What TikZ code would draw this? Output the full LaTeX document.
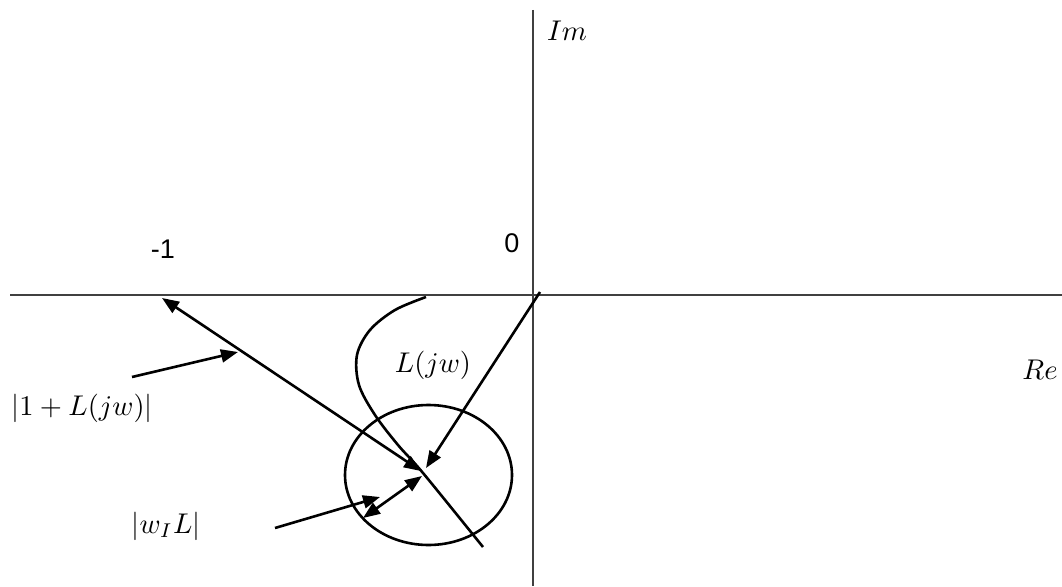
\documentclass[tikz,border=0pt]{standalone}
\usepackage{graphicx}
\usepackage{fontspec}
\newfontfamily\arialfont{Liberation Sans}
\usetikzlibrary{arrows.meta}
\newcommand{\mlab}[1]{\scalebox{2.85}{$#1$}}
\tikzset{
  axis/.style={line width=2.1pt, draw=black!75},
  curve/.style={line width=2.6pt, draw=black},
  arr/.style={curve, -{Triangle[length=17pt,width=13pt]}},
  darr/.style={curve, {Triangle[length=17pt,width=13pt]}-{Triangle[length=17pt,width=13pt]}},
  mlabel/.style={inner sep=0pt},
  slabel/.style={font=\arialfont\fontsize{27}{32}\selectfont, inner sep=0pt}
}
\begin{document}
\begin{tikzpicture}[x=1pt,y=-1pt]
\useasboundingbox (0,0) rectangle (1062,586);
% axes
\coordinate (xl) at (10,295);
\coordinate (xr) at (1062,295);
\coordinate (yt) at (533,10);
\coordinate (yb) at (533,586);
\draw[axis] (xl) -- (xr);
\draw[axis] (yt) -- (yb);
% key points
\coordinate (O) at (540,292);
\coordinate (M) at (162,298);
\coordinate (P) at (423,473);
\coordinate (P1) at (421,471);
\coordinate (P2) at (426,468);
\coordinate (P3) at (422,476);
\coordinate (E) at (363,518);
% Nyquist curve
\draw[curve] plot[smooth, tension=0.55] coordinates {(426,297) (395,310) (370,330) (357,355) (359,385) (375,415) (398,445) (P) (483,547)};
% uncertainty circle
\draw[curve] (428.5,475) ellipse [x radius=83.5, y radius=70];
% arrows
\draw[darr] (P1) -- (M);
\draw[arr] (O) -- (P2);
\draw[darr] (P3) -- (E);
% pointers
\coordinate (s1) at (132,377);
\coordinate (t1) at (238,352);
\coordinate (s2) at (275,528);
\coordinate (t2) at (380,497);
\draw[arr] (s1) -- (t1);
\draw[arr] (s2) -- (t2);
% labels
\node[mlabel] (im) at (567,31) {\mlab{Im}};
\node[mlabel] (re) at (1040,370) {\mlab{Re}};
\node[mlabel] (ljw) at (433,365) {\mlab{L(jw)}};
\node[mlabel] (oneL) at (82,408) {\mlab{|1+L(jw)|}};
\node[mlabel] (wl) at (166,526) {\mlab{|w_IL|}};
\node[slabel] (m1) at (163,249) {-1};
\node[slabel] (zero) at (512,243) {0};
\end{tikzpicture}
\end{document}
